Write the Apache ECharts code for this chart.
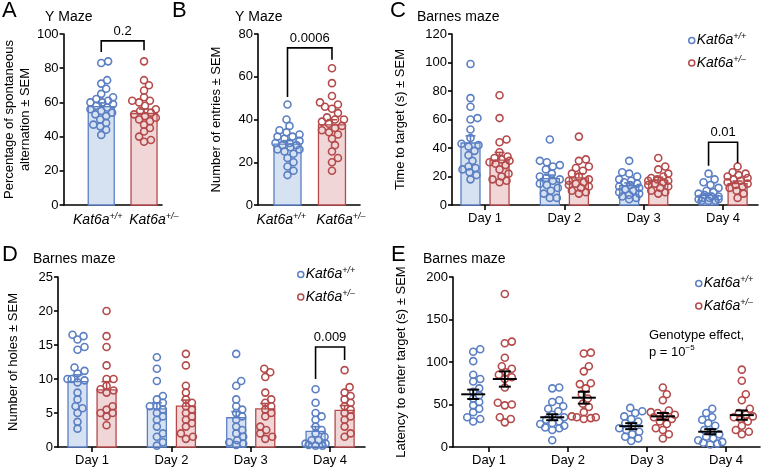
<!DOCTYPE html>
<html>
<head>
<meta charset="utf-8">
<script src="https://cdn.jsdelivr.net/npm/echarts@6/dist/echarts.min.js"></script>
<style>html,body{margin:0;background:#fff}#chart{width:762px;height:475px}</style>
</head>
<body>
<div id="chart"></div>
<script>
// colours
const BLUE = '#5b7fc3', BLUE_FILL = '#d6e2f2';
const RED = '#b54a4b', RED_FILL = '#f0d6d7';
const FONT = '"Liberation Sans", Arial, sans-serif';

// ---- data ----
const genotypeLabels = ['{i|Kat6a}{s|+/+}', '{i|Kat6a}{s|+/\u2013}'];
const days = ['Day 1', 'Day 2', 'Day 3', 'Day 4'];

// A: Y maze, spontaneous alternation (%)
const aWT = [84, 83, 73, 71, 68, 65, 63, 62, 61, 60, 60, 59, 58, 57, 56, 55, 54, 53, 52, 50, 48, 47, 46, 44, 41];
const aHet = [84, 73, 70, 67, 63, 61, 61, 60, 58, 56, 55, 54, 53, 52, 51, 50, 49, 47, 45, 43, 40, 38, 37];
const aMean = [57.5, 53.5];
const aSem = [2.2, 2.6];

// B: Y maze, number of entries
const bWT = [47, 40, 37, 35, 34, 33, 32, 32, 31, 30, 29, 29, 28, 28, 27, 26, 26, 25, 24, 22, 20, 18, 16, 14];
const bHet = [64, 57, 51, 48, 47, 46, 45, 43, 41, 40, 40, 39, 38, 37, 36, 35, 34, 33, 31, 28, 25, 22, 20, 16];
const bMean = [28.5, 37.5];
const bSem = [1.6, 2.4];

// C: Barnes maze, time to target (s)
const cWT = [
  [99, 75, 69, 61, 60, 53, 47, 43, 42, 41, 38, 35, 31, 27, 26, 25, 23, 21, 18],
  [46, 31, 30, 28, 27, 25, 22, 20, 19, 18, 17, 15, 14, 12, 10, 8, 5, 5],
  [31, 23, 22, 20, 18, 17, 16, 15, 14, 13, 12, 11, 10, 9, 8, 7, 6, 5, 4],
  [22, 18, 16, 14, 12, 10, 9, 8, 7, 6, 6, 5, 5, 4, 4, 3, 3, 3]
];
const cHet = [
  [77, 61, 46, 44, 37, 34, 33, 32, 31, 30, 29, 28, 25, 22, 20, 18, 17, 16],
  [48, 32, 31, 27, 26, 24, 22, 20, 18, 17, 16, 15, 14, 13, 12, 10, 9, 8],
  [33, 27, 25, 22, 20, 19, 18, 17, 17, 16, 15, 14, 13, 12, 10, 9, 8],
  [27, 23, 22, 21, 20, 19, 18, 17, 16, 15, 14, 13, 12, 10, 8, 5]
];
const cMeanWT = [43.5, 18.5, 13.5, 6.8];
const cSemWT = [5.0, 2.5, 2.0, 1.3];
const cMeanHet = [31.5, 19, 17.5, 15];
const cSemHet = [5.4, 3.0, 2.0, 1.8];

// D: Barnes maze, number of holes
const dWT = [
  [16.5, 16.3, 15.8, 14.7, 14.3, 11.7, 11.2, 10.8, 10, 10, 9.8, 9.5, 8, 7, 6, 5.7, 5, 3.7, 2.7],
  [13.2, 11.5, 9.7, 7.5, 7, 6.5, 6, 6, 5.5, 5, 4.5, 4, 3, 2, 1.5, 0.7, 0.2],
  [13.7, 9.7, 9, 7, 6, 5.5, 5, 4.5, 4, 3, 2.5, 2, 1.5, 1, 0.7, 0.5, 0.3],
  [8.5, 6.5, 5, 4.5, 4, 3, 2.5, 2, 1.5, 1, 1, 0.5, 0.5, 0.3, 0.2, 0.2]
];
const dHet = [
  [20, 16.3, 14.7, 12, 10, 10, 9, 8.5, 8.3, 8, 6, 5.5, 5, 5, 4.5, 3.2],
  [13.7, 12, 9, 8, 7, 6.5, 6, 5.5, 5, 4.5, 4, 3.5, 3, 2, 1.5, 1.2],
  [11.5, 11, 10.3, 8, 7, 6.5, 6, 5.5, 5, 4.5, 3, 2.5, 2, 1.5, 1.2],
  [11.3, 8.8, 8, 7.5, 7, 6.5, 6, 5.5, 5, 4.5, 4, 3, 2, 1.5]
];
const dMeanWT = [9.6, 5.6, 4.3, 2.3];
const dSemWT = [1.0, 0.9, 0.9, 0.7];
const dMeanHet = [8.4, 6.0, 5.6, 5.4];
const dSemHet = [1.2, 0.9, 0.8, 0.7];

// E: Barnes maze, latency to enter target (s)
const eWT = [
  [115, 112, 101, 85, 80, 77, 69, 65, 61, 57, 53, 49, 45, 41, 35, 33, 30],
  [70, 69, 55, 53, 48, 45, 42, 38, 35, 32, 30, 28, 27, 25, 23, 22, 20, 8],
  [46, 42, 40, 36, 33, 30, 28, 25, 22, 20, 18, 15, 12, 10, 7],
  [45, 40, 35, 32, 28, 25, 20, 18, 15, 12, 10, 8, 6, 5, 4, 3]
];
const eHet = [
  [180, 124, 122, 105, 95, 92, 88, 85, 82, 80, 70, 52, 50, 49, 35, 33, 29],
  [111, 110, 95, 89, 75, 74, 69, 62, 57, 51, 47, 41, 36, 35, 35, 34, 33],
  [70, 62, 55, 43, 41, 40, 38, 37, 35, 33, 30, 27, 22, 20, 15, 10],
  [91, 78, 62, 55, 45, 40, 38, 36, 35, 33, 30, 25, 20, 18, 15]
];
const eMeanWT = [62, 35, 24.5, 18];
const eSemWT = [5.5, 3.5, 3.5, 3.0];
const eMeanHet = [80, 58, 36, 37.5];
const eSemHet = [9, 7, 4, 5.5];

// significance brackets: [x1, x2, yTop, yLeftEnd, yRightEnd]
const bracketA = [1, 2, 96, 89.5, 90.5];
const bracketB = [1, 2, 73.5, 50.5, 68];
const bracketC = [3.817, 4.183, 44, 27.5, 29.5];
const bracketD = [3.817, 4.183, 14.7, 10, 12.8];
const pA = '0.2', pB = '0.0006', pC = '0.01', pD = '0.009';

// ---- helpers ----
const richLabel = {
  i: { fontStyle: 'italic', fontSize: 14, fontFamily: FONT, color: '#000', lineHeight: 17 },
  s: { fontStyle: 'italic', fontSize: 9, fontFamily: FONT, color: '#000', verticalAlign: 'top', lineHeight: 11 }
};

// simple beeswarm in pixel space so circles don't pile on top of each other
function swarm(vals, xc, pxX, pxY, maxPx) {
  const D = 6.8;
  const idx = vals.map((v, i) => i).sort((a, b) => vals[a] - vals[b]);
  const placed = [];
  const out = [];
  idx.forEach(i => {
    const py = vals[i] * pxY;
    let best = 0, bestPen = Infinity;
    for (let k = 0; k <= 2 * maxPx; k++) {
      const off = (k % 2 ? 1 : -1) * Math.ceil(k / 2);
      let pen = 0;
      placed.forEach(p => {
        const d = Math.hypot(p[0] - off, p[1] - py);
        if (d < D) pen += D - d;
      });
      if (pen < bestPen - 1e-9) { bestPen = pen; best = off; if (pen === 0) break; }
    }
    placed.push([best, py]);
    out.push([xc + best / pxX, vals[i]]);
  });
  return out;
}

const grids = [], xAxes = [], yAxes = [], series = [];
const axisLineStyle = { color: '#000', width: 1.6 };

function addPanel(p) {
  const gi = grids.length;
  const labelPos = p.labelPos || p.ticks;
  grids.push(Object.assign({ containLabel: false }, p.grid));
  xAxes.push({
    gridIndex: gi, type: 'value', min: p.x[0], max: p.x[1],
    axisLine: { show: true, onZero: false, lineStyle: axisLineStyle },
    axisTick: { show: p.xTicks, customValues: p.ticks, length: 5, lineStyle: axisLineStyle },
    axisLabel: {
      customValues: labelPos, margin: 7, fontSize: 13, fontFamily: FONT, color: '#000',
      hideOverlap: false, showMinLabel: true, showMaxLabel: true,
      formatter: v => p.labels[labelPos.indexOf(v)], rich: richLabel
    },
    splitLine: { show: false }
  });
  yAxes.push({
    gridIndex: gi, type: 'value', min: p.y[0], max: p.y[1], interval: p.y[2],
    name: p.yName, nameLocation: 'middle', nameGap: p.nameGap,
    nameTextStyle: { fontSize: 13, fontFamily: FONT, color: '#000', lineHeight: 16 },
    axisLine: { show: true, lineStyle: axisLineStyle },
    axisTick: { show: true, length: 4, lineStyle: axisLineStyle },
    axisLabel: { fontSize: 13, fontFamily: FONT, color: '#000', margin: 5 },
    splitLine: { show: false }
  });
  const pxX = p.grid.width / (p.x[1] - p.x[0]);
  const pxY = p.grid.height / (p.y[1] - p.y[0]);
  const colors = [[BLUE, BLUE_FILL], [RED, RED_FILL]];

  // bars (A-D)
  if (p.barWidth) {
    series.push({
      type: 'custom', xAxisIndex: gi, yAxisIndex: gi, z: 2, silent: true,
      data: p.groups.map(g => [g.x, g.mean, g.sem, g.c]),
      renderItem: (params, api) => {
        const c = colors[api.value(3)];
        const base = api.coord([api.value(0), 0]);
        const top = api.coord([api.value(0), api.value(1)]);
        const w = p.barWidth;
        return {
          type: 'rect',
          shape: { x: base[0] - w / 2, y: top[1], width: w, height: base[1] - top[1] },
          style: { fill: c[1], stroke: c[0], lineWidth: 1.3 }
        };
      }
    });
  }
  // points
  p.groups.forEach(g => {
    series.push({
      name: g.name, type: 'scatter', xAxisIndex: gi, yAxisIndex: gi, z: 3, silent: true,
      symbol: 'circle', symbolSize: 7,
      itemStyle: { color: 'rgba(255,255,255,0)', borderColor: colors[g.c][0], borderWidth: 1.6, opacity: 1 },
      data: swarm(g.vals, g.x, pxX, pxY, p.spread)
    });
  });
  // error bars
  series.push({
    type: 'custom', xAxisIndex: gi, yAxisIndex: gi, z: 4, silent: true,
    data: p.groups.map(g => [g.x, g.mean, g.sem, g.c]),
    renderItem: (params, api) => {
      const x = api.value(0), m = api.value(1), s = api.value(2);
      const hi = api.coord([x, m + s]);
      if (p.barWidth) {
        const col = colors[api.value(3)][0];
        const lo = api.coord([x, m]);
        return {
          type: 'group', children: [
            { type: 'line', shape: { x1: lo[0], y1: lo[1], x2: hi[0], y2: hi[1] }, style: { stroke: col, lineWidth: 1.6 } },
            { type: 'line', shape: { x1: hi[0] - 5, y1: hi[1], x2: hi[0] + 5, y2: hi[1] }, style: { stroke: col, lineWidth: 1.6 } }
          ]
        };
      }
      const mid = api.coord([x, m]);
      const lo = api.coord([x, m - s]);
      const st = { stroke: '#000', lineWidth: 2 };
      return {
        type: 'group', children: [
          { type: 'line', shape: { x1: mid[0] - 12, y1: mid[1], x2: mid[0] + 12, y2: mid[1] }, style: st },
          { type: 'line', shape: { x1: lo[0], y1: lo[1], x2: hi[0], y2: hi[1] }, style: st },
          { type: 'line', shape: { x1: hi[0] - 6, y1: hi[1], x2: hi[0] + 6, y2: hi[1] }, style: st },
          { type: 'line', shape: { x1: lo[0] - 6, y1: lo[1], x2: lo[0] + 6, y2: lo[1] }, style: st }
        ]
      };
    }
  });
  // significance bracket
  if (p.bracket) {
    series.push({
      type: 'custom', xAxisIndex: gi, yAxisIndex: gi, z: 5, silent: true,
      data: [p.bracket],
      renderItem: (params, api) => {
        const a = api.coord([api.value(0), api.value(3)]);
        const b = api.coord([api.value(0), api.value(2)]);
        const c = api.coord([api.value(1), api.value(2)]);
        const d = api.coord([api.value(1), api.value(4)]);
        return {
          type: 'group', children: [
            { type: 'polyline', shape: { points: [a, b, c, d] }, style: { stroke: '#000', lineWidth: 1.6, fill: null } },
            { type: 'text', style: { text: p.pText, x: (b[0] + c[0]) / 2, y: b[1] - 3, align: 'center', verticalAlign: 'bottom', fontSize: 13, fontFamily: FONT, fill: '#000' } }
          ]
        };
      }
    });
  }
}

function dayGroups(wt, het, mWT, sWT, mHet, sHet, off, tag) {
  const g = [];
  days.forEach((d, i) => {
    g.push({ name: 'wt' + tag, x: i + 1 - off, vals: wt[i], mean: mWT[i], sem: sWT[i], c: 0 });
    g.push({ name: 'het' + tag, x: i + 1 + off, vals: het[i], mean: mHet[i], sem: sHet[i], c: 1 });
  });
  return g;
}

// A
addPanel({
  grid: { left: 62, top: 34, width: 100, height: 171 }, x: [0.12, 2.42], y: [0, 100, 20],
  ticks: [1, 2], labelPos: [0.92, 2.23], labels: genotypeLabels, xTicks: false, barWidth: 26, spread: 12,
  yName: 'Percentage of spontaneous\nalternation \u00b1 SEM', nameGap: 25,
  groups: [
    { name: 'wtA', x: 1, vals: aWT, mean: aMean[0], sem: aSem[0], c: 0 },
    { name: 'hetA', x: 2, vals: aHet, mean: aMean[1], sem: aSem[1], c: 1 }
  ],
  bracket: bracketA, pText: pA
});
// B
addPanel({
  grid: { left: 258, top: 34, width: 102, height: 171 }, x: [0.337, 2.63], y: [0, 80, 20],
  ticks: [1, 2], labelPos: [0.86, 2.2], labels: genotypeLabels, xTicks: false, barWidth: 27, spread: 12,
  yName: 'Number of entries \u00b1 SEM', nameGap: 34,
  groups: [
    { name: 'wtB', x: 1, vals: bWT, mean: bMean[0], sem: bSem[0], c: 0 },
    { name: 'hetB', x: 2, vals: bHet, mean: bMean[1], sem: bSem[1], c: 1 }
  ],
  bracket: bracketB, pText: pB
});
// C
addPanel({
  grid: { left: 452, top: 34, width: 306, height: 171 }, x: [0.584, 4.44], y: [0, 120, 20],
  ticks: [1, 2, 3, 4], labels: days, xTicks: true, barWidth: 19, spread: 10,
  yName: 'Time to target (s) \u00b1 SEM', nameGap: 44,
  groups: dayGroups(cWT, cHet, cMeanWT, cSemWT, cMeanHet, cSemHet, 0.183, 'C'),
  bracket: bracketC, pText: pC
});
// D
addPanel({
  grid: { left: 58, top: 277, width: 307, height: 170 }, x: [0.571, 4.44], y: [0, 25, 5],
  ticks: [1, 2, 3, 4], labels: days, xTicks: true, barWidth: 19, spread: 10,
  yName: 'Number of holes \u00b1 SEM', nameGap: 37,
  groups: dayGroups(dWT, dHet, dMeanWT, dSemWT, dMeanHet, dSemHet, 0.183, 'D'),
  bracket: bracketD, pText: pD
});
// E
addPanel({
  grid: { left: 453, top: 277, width: 307, height: 170 }, x: [0.544, 4.43], y: [0, 200, 50],
  ticks: [1, 2, 3, 4], labels: days, xTicks: true, barWidth: 0, spread: 12,
  yName: 'Latency to enter target (s) \u00b1 SEM', nameGap: 44,
  groups: dayGroups(eWT, eHet, eMeanWT, eSemWT, eMeanHet, eSemHet, 0.2, 'E')
});

function legendFor(tag, left, top) {
  return {
    left: left, top: top, orient: 'vertical', itemGap: 7, itemWidth: 6, itemHeight: 6,
    icon: 'circle', selectedMode: false,
    data: [
      { name: 'wt' + tag, itemStyle: { color: '#fff', borderColor: BLUE, borderWidth: 1.5 } },
      { name: 'het' + tag, itemStyle: { color: '#fff', borderColor: RED, borderWidth: 1.5 } }
    ],
    formatter: n => n.indexOf('wt') === 0 ? genotypeLabels[0] : genotypeLabels[1],
    textStyle: { fontSize: 14, fontFamily: FONT, color: '#000', padding: [0, 0, 0, -3], rich: richLabel }
  };
}

function heading(text, left, top, size) {
  return { text: text, left: left, top: top, padding: 0,
    textStyle: { fontSize: size, fontWeight: 'normal', fontFamily: FONT, color: '#000' } };
}

const chart = echarts.init(document.getElementById('chart'), null, { renderer: 'canvas' });
chart.setOption({
  animation: false,
  backgroundColor: '#fff',
  title: [
    heading('A', 2, 0, 22), heading('Y Maze', 45, 10, 14),
    heading('B', 172, 0, 22), heading('Y Maze', 235, 10, 14),
    heading('C', 390, 0, 22), heading('Barnes maze', 417, 10, 14),
    heading('D', 2, 244, 22), heading('Barnes maze', 33, 252, 14),
    heading('E', 391, 244, 22), heading('Barnes maze', 423, 252, 14)
  ],
  legend: [legendFor('C', 683, 27), legendFor('D', 292, 261), legendFor('E', 690, 270)],
  graphic: [
    { type: 'text', left: 649, top: 329, style: { text: 'Genotype effect,', fontSize: 13, fontFamily: FONT, fill: '#000' } },
    { type: 'text', left: 649, top: 344, style: {
      text: '{n|p = 10}{s|\u22125}', fontFamily: FONT, fill: '#000',
      rich: { n: { fontSize: 13, fontFamily: FONT, lineHeight: 16 }, s: { fontSize: 8, fontFamily: FONT, verticalAlign: 'top', lineHeight: 10 } }
    } }
  ],
  grid: grids,
  xAxis: xAxes,
  yAxis: yAxes,
  series: series
});
</script>
</body>
</html>
